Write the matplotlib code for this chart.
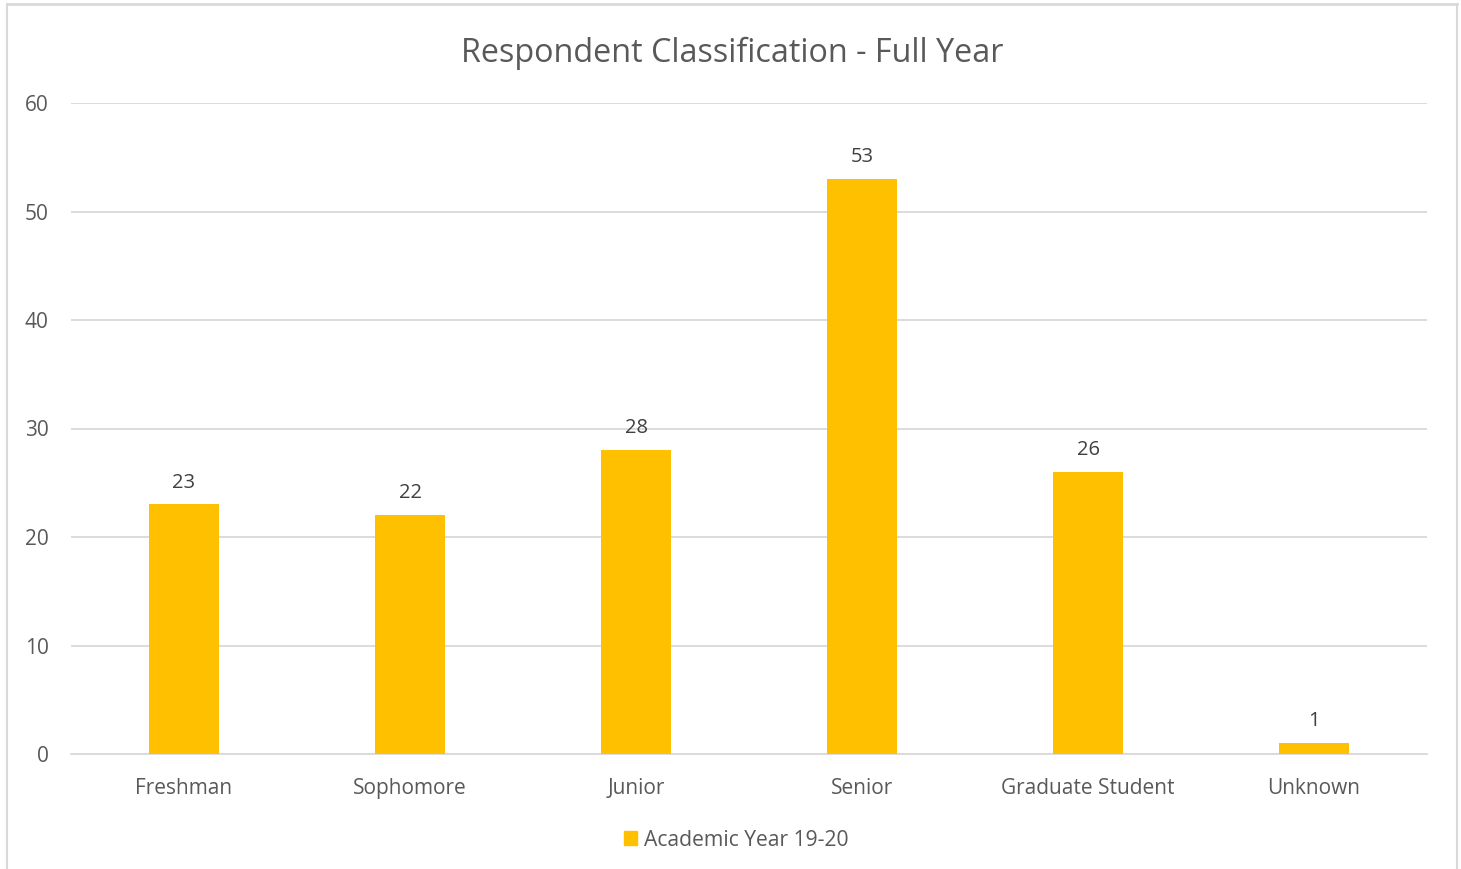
import matplotlib
matplotlib.use("Agg")
import matplotlib.pyplot as plt
from matplotlib.patches import Rectangle
from matplotlib.lines import Line2D

categories = ["Freshman", "Sophomore", "Junior", "Senior", "Graduate Student", "Unknown"]
values = [23, 22, 28, 53, 26, 1]
series_name = "Academic Year 19-20"
title = "Respondent Classification - Full Year"

plt.rcParams['font.family'] = ['Open Sans', 'DejaVu Sans']
txt = "#595959"
bar_color = "#FFC000"
grid = "#D9D9D9"

W, H = 1461, 869
fig = plt.figure(figsize=(W/100, H/100), dpi=100)
ax = fig.add_axes([71/W, (H-754)/H, (1427-71)/W, (754-103)/H])

x = list(range(len(categories)))
ax.bar(x, values, width=0.314, color=bar_color, zorder=3, label=series_name)
for xi, v in zip(x, values):
    ax.text(xi, v + 1.1, str(v), ha="center", va="bottom", fontsize=14.5, color="#404040")

ax.set_xlim(-0.5, len(categories) - 0.5)
ax.set_ylim(0, 60)
ax.set_yticks(range(0, 61, 10))
ax.set_xticks(x)
ax.set_xticklabels(categories)
ax.yaxis.grid(True, color=grid, linewidth=1.3, zorder=0)
ax.tick_params(axis='both', length=0, labelsize=15, labelcolor=txt)
ax.tick_params(axis='y', pad=16)
ax.tick_params(axis='x', pad=17.5)
for s in ["top", "right", "left"]:
    ax.spines[s].set_visible(False)
ax.spines["bottom"].set_color(grid)
ax.spines["bottom"].set_linewidth(1.3)

fig.text(732/W, 1 - 53/H, title, ha="center", va="center", fontsize=23.3, color=txt)

handles = [Rectangle((0, 0), 1, 1, color=bar_color)]
fig.legend(handles, [series_name], loc="center", bbox_to_anchor=(736/W, 1 - 840/H),
           frameon=False, fontsize=15.2, labelcolor=txt, handlelength=0.65, handleheight=0.65,
           handletextpad=0.3)

# outer frame
fig.add_artist(Line2D([7/W, 7/W], [0, 1 - 4/H], transform=fig.transFigure, color=grid, lw=1.5))
fig.add_artist(Line2D([1457/W, 1457/W], [0, 1 - 4/H], transform=fig.transFigure, color=grid, lw=1.5))
fig.add_artist(Line2D([7/W, 1457/W], [1 - 4/H, 1 - 4/H], transform=fig.transFigure, color=grid, lw=2))

fig.savefig("out.png", dpi=100)
